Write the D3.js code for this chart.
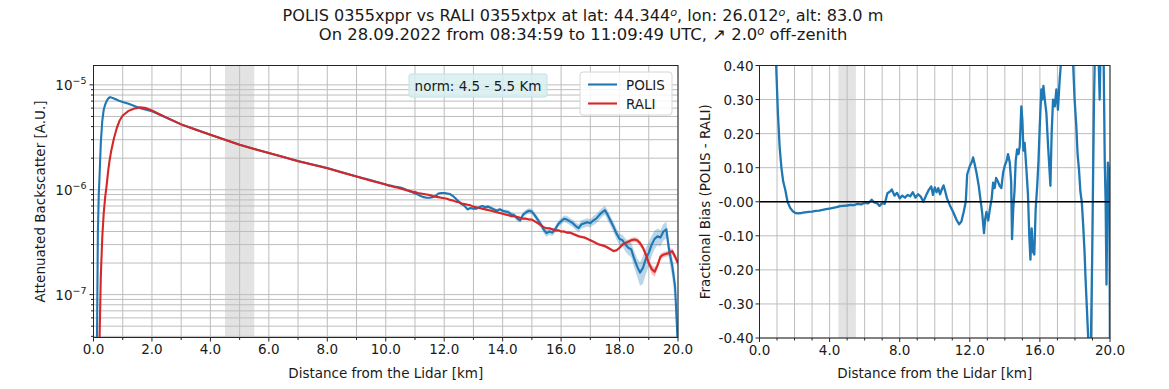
<!DOCTYPE html>
<html>
<head>
<meta charset="utf-8">
<script src="https://cdn.jsdelivr.net/npm/d3@7"></script>
<style>
  body { margin: 0; background: #fff; }
  text { font-family: "DejaVu Sans", sans-serif; fill: #1a1a1a; }
</style>
</head>
<body>
<script>
// ---- data (backscatter values in units of 1e-6 A.U.) ----
const distHead = [0.10,0.12,0.15,0.18,0.20,0.25,0.30,0.35,0.40,0.45,0.50,0.55,0.60,0.70,0.80,0.90,1.00,1.20,1.40,1.60,1.80,2.00,2.50,3.00,3.50,4.00,4.50,5.00,5.50,6.00,6.50,7.00,7.50,8.00,8.50,9.00,9.50];
const polisHead = [0.005,0.04,0.4,0.9,1.2,2.8,4.5,5.8,6.5,7.0,7.4,7.6,7.6,7.4,7.2,7.0,6.85,6.6,6.3,6.0,5.8,5.6,4.85,4.2,3.75,3.35,3.0,2.68,2.45,2.24,2.05,1.88,1.74,1.61,1.47,1.34,1.23];
const raliHead = [0.001,0.002,0.005,0.015,0.03,0.15,0.35,0.6,0.85,1.1,1.5,1.9,2.3,3.1,3.9,4.6,5.1,5.65,5.95,6.1,6.0,5.7,4.87,4.2,3.74,3.34,3.0,2.68,2.45,2.24,2.05,1.87,1.73,1.6,1.46,1.34,1.22];

const distTail = [10.0,10.1,10.2,10.3,10.4,10.5,10.6,10.7,10.8,10.9,
  11.0,11.1,11.2,11.3,11.4,11.5,11.6,11.7,11.8,11.9,
  12.0,12.1,12.2,12.3,12.4,12.5,12.6,12.7,12.8,12.9,
  13.0,13.1,13.2,13.3,13.4,13.5,13.6,13.7,13.8,13.9,
  14.0,14.1,14.2,14.3,14.4,14.5,14.6,14.7,14.8,14.9,
  15.0,15.1,15.2,15.3,15.4,15.5,15.6,15.7,15.8,15.9,
  16.0,16.1,16.2,16.3,16.4,16.5,16.6,16.7,16.8,16.9,
  17.0,17.1,17.2,17.3,17.4,17.5,17.6,17.7,17.8,17.9,
  18.0,18.1,18.2,18.3,18.4,18.5,18.6,18.7,18.8,18.9,
  19.0,19.1,19.2,19.3,19.4,19.5,19.6,19.7,19.8,19.9,
  20.0];
const polisTail = [1.12,1.10,1.09,1.07,1.06,1.05,1.03,1.00,0.97,0.95,
  0.92,0.90,0.87,0.85,0.84,0.84,0.85,0.87,0.92,0.93,
  0.93,0.92,0.91,0.87,0.82,0.77,0.73,0.70,0.65,0.67,
  0.66,0.66,0.68,0.70,0.68,0.69,0.67,0.65,0.63,0.65,
  0.63,0.62,0.61,0.58,0.57,0.53,0.51,0.58,0.61,0.63,
  0.62,0.57,0.52,0.47,0.42,0.385,0.40,0.39,0.42,0.47,
  0.50,0.53,0.52,0.50,0.48,0.45,0.43,0.47,0.48,0.49,
  0.48,0.51,0.53,0.57,0.61,0.64,0.57,0.50,0.44,0.38,
  0.34,0.33,0.30,0.28,0.27,0.22,0.186,0.162,0.18,0.22,
  0.25,0.30,0.34,0.36,0.35,0.40,0.42,0.26,0.19,0.12,
  0.03];
const raliTail = [1.12,1.10,1.08,1.06,1.05,1.03,1.01,0.99,0.98,0.96,
  0.95,0.93,0.92,0.91,0.90,0.89,0.87,0.86,0.85,0.84,
  0.83,0.82,0.80,0.79,0.77,0.76,0.74,0.73,0.72,0.71,
  0.69,0.68,0.67,0.66,0.65,0.64,0.63,0.62,0.61,0.60,
  0.59,0.58,0.57,0.56,0.56,0.55,0.54,0.53,0.53,0.52,
  0.52,0.50,0.48,0.46,0.44,0.43,0.43,0.42,0.41,0.41,
  0.40,0.40,0.39,0.39,0.38,0.37,0.36,0.355,0.35,0.34,
  0.33,0.32,0.31,0.30,0.295,0.29,0.28,0.27,0.26,0.265,
  0.28,0.30,0.31,0.32,0.33,0.335,0.33,0.31,0.28,0.24,
  0.20,0.175,0.165,0.19,0.23,0.24,0.245,0.25,0.26,0.23,
  0.20];
// spread of the shaded envelope, percent
const polisErrTail = [1,1,1,1,1,1,1,1,1,1, 1,1,1,1,1,1,1,1,1,1,
  2,2,2,2,2,3,3,3,3,3, 3,3,3,3,4,4,4,4,4,4,
  4,4,5,5,5,5,5,5,6,6, 6,6,7,7,8,8,7,7,7,7,
  7,7,8,8,8,8,9,9,9,9, 9,10,10,10,10,10,11,11,12,12,
  12,13,14,15,16,18,20,25,30,28, 26,22,20,18,18,18,18,20,22,30,
  40];
const raliErrTail = [1,1,1,1,1,1,1,1,1,1, 1,1,1,1,1,1,1,1,1,1,
  1,1,1,1,1,1,1,1,1,1, 1,1,1,1,1,1,1,1,1,1,
  2,2,2,2,2,2,2,2,2,2, 2,2,2,2,2,2,2,2,2,2,
  3,3,3,3,3,3,3,3,3,3, 3,3,3,3,3,3,3,3,3,3,
  4,4,4,5,5,5,6,6,6,7, 8,10,10,8,7,6,6,6,7,8,
  8];

const biasDist = [0.85,0.95,1.05,1.15,1.25,1.35,1.47,1.60,1.75,1.90,
  2.05,2.20,2.40,2.60,2.80,3.00,3.20,3.40,3.60,3.80,
  4.00,4.20,4.40,4.60,4.80,5.00,5.20,5.40,5.60,5.80,
  6.00,6.20,6.40,6.55,6.70,6.85,7.00,7.15,7.30,7.45,
  7.55,7.70,7.85,8.00,8.15,8.30,8.45,8.60,8.75,8.90,
  9.05,9.20,9.35,9.50,9.65,9.80,9.90,10.00,10.10,10.20,
  10.30,10.40,10.50,10.60,10.70,10.86,11.05,11.24,11.39,11.52,
  11.65,11.77,11.85,12.00,12.10,12.19,12.28,12.38,12.50,12.60,
  12.70,12.81,12.88,12.95,13.05,13.15,13.25,13.33,13.42,13.50,
  13.60,13.70,13.80,13.90,13.99,14.10,14.18,14.28,14.36,14.41,
  14.48,14.55,14.62,14.70,14.78,14.85,14.94,15.00,15.06,15.13,
  15.23,15.32,15.40,15.46,15.53,15.60,15.68,15.76,15.85,15.92,
  15.99,16.08,16.14,16.20,16.28,16.37,16.46,16.54,16.60,16.67,
  16.75,16.85,16.94,17.03,17.13,17.22,17.40,17.60,17.80,17.90,
  17.98,18.08,18.15,18.23,18.31,18.39,18.48,18.55,18.60,18.67,
  18.73,18.80,18.90,18.98,19.03,19.08,19.13,19.25,19.35,19.41,
  19.45,19.55,19.63,19.70,19.75,19.80,19.85,19.88,19.94,19.97,
  20.00];
const biasVal = [0.80,0.40,0.26,0.16,0.10,0.06,0.035,0.00,-0.018,-0.028,
  -0.033,-0.034,-0.033,-0.031,-0.030,-0.029,-0.027,-0.026,-0.024,-0.022,
  -0.020,-0.018,-0.016,-0.013,-0.012,-0.011,-0.009,-0.010,-0.006,-0.008,
  -0.003,-0.005,0.006,-0.002,-0.004,-0.012,-0.004,-0.006,0.025,0.030,
  0.036,0.018,0.026,0.010,0.018,0.012,0.020,0.016,0.028,0.012,
  0.022,0.015,0.000,0.018,0.034,0.045,0.020,0.042,0.028,0.040,
  0.022,0.036,0.048,0.030,0.010,-0.010,-0.030,-0.053,-0.066,-0.058,
  -0.030,0.000,0.080,0.105,0.115,0.130,0.110,0.086,0.050,0.010,
  -0.030,-0.092,-0.050,-0.030,-0.055,-0.020,0.010,0.056,0.040,0.070,
  0.060,0.047,0.040,0.085,0.105,0.120,0.140,0.115,0.060,-0.110,
  -0.020,0.030,0.120,0.154,0.140,0.164,0.280,0.240,0.150,0.173,
  0.095,0.020,-0.107,-0.170,-0.078,-0.146,-0.155,-0.020,0.050,0.120,
  0.220,0.330,0.300,0.340,0.300,0.260,0.170,0.100,0.047,0.200,
  0.300,0.280,0.330,0.270,0.360,0.420,0.600,0.700,0.550,0.400,
  0.300,0.220,0.140,0.095,0.030,0.000,-0.078,-0.150,-0.220,-0.300,
  -0.370,-0.450,-0.450,-0.175,0.050,0.270,0.420,0.600,0.420,0.300,
  0.420,0.600,0.450,0.120,0.000,-0.243,0.000,0.115,0.095,0.000,
  -0.500];

// ticks
const kmTicks = [0,1,2,3,4,5,6,7,8,9,10,11,12,13,14,15,16,17,18,19,20];
const leftKmLabels = [0,2,4,6,8,10,12,14,16,18,20];
const rightKmLabels = [0,4,8,12,16,20];
const decades = [-8,-7,-6,-5];
const decadeLabels = [-7,-6,-5];
const biasTicks = [0.4,0.3,0.2,0.1,0,-0.1,-0.2,-0.3,-0.4];
const normBand = [4.5, 5.5];

const titleLine1 = ['POLIS 0355xppr vs RALI 0355xtpx at lat: 44.344', 'o', ', lon: 26.012', 'o', ', alt: 83.0 m'];
const titleLine2 = ['On 28.09.2022 from 08:34:59 to 11:09:49 UTC,  \u2197  2.0', 'o', ' off-zenith'];

const distAll = distHead.concat(distTail);
const polisAll = polisHead.concat(polisTail);
const raliAll = raliHead.concat(raliTail);

const W = 1169, H = 389;
const FS = '13.5px';
const svg = d3.select('body').append('svg').attr('width', W).attr('height', H);

// ---- title ----
function addTitle(parts, y, targetWidth) {
  const t = svg.append('text').attr('x', 583).attr('y', y).attr('text-anchor', 'middle')
    .style('font-size', '14.5px');
  parts.forEach((p, i) => {
    if (i % 2 === 1) {
      t.append('tspan').attr('dy', -5).style('font-size', '10px').style('font-style', 'italic').text(p);
    } else {
      t.append('tspan').attr('dy', i === 0 ? 0 : 5).text(p);
    }
  });
  const len = t.node().getComputedTextLength();
  const fs = 14.5 * targetWidth / len;
  t.style('font-size', fs + 'px');
  t.selectAll('tspan').filter((d, i) => i % 2 === 1).style('font-size', (fs * 0.7) + 'px');
}
addTitle(titleLine1, 21, 601);
addTitle(titleLine2, 40, 529);

const gridColor = '#bdbdbd';
const axisColor = '#262626';
const lw = 2.1;

// ================= left panel =================
const L = { x0: 93.5, x1: 678, y0: 65.5, y1: 337.5 };
const xL = d3.scaleLinear().domain([0, 20]).range([L.x0, L.x1]);
const yL = d3.scaleLog().domain([3.9e-8, 1.53e-5]).range([L.y1, L.y0]);

const gL = svg.append('g');
gL.append('defs').append('clipPath').attr('id', 'clipL')
  .append('rect').attr('x', L.x0).attr('y', L.y0).attr('width', L.x1 - L.x0).attr('height', L.y1 - L.y0);

gL.append('rect').attr('x', xL(normBand[0])).attr('y', L.y0)
  .attr('width', xL(normBand[1]) - xL(normBand[0])).attr('height', L.y1 - L.y0)
  .attr('fill', '#e3e3e3');

const logTicks = [];
decades.forEach(d => {
  for (let m = 1; m <= 9; m++) {
    const v = m * Math.pow(10, d);
    if (v >= yL.domain()[0] && v <= yL.domain()[1]) logTicks.push({ v, major: m === 1 });
  }
});

gL.selectAll('.hgrid').data(logTicks).enter().append('line')
  .attr('x1', L.x0).attr('x2', L.x1)
  .attr('y1', d => yL(d.v)).attr('y2', d => yL(d.v))
  .attr('stroke', gridColor).attr('stroke-width', 1);
gL.selectAll('.vgrid').data(kmTicks).enter().append('line')
  .attr('x1', d => xL(d)).attr('x2', d => xL(d))
  .attr('y1', L.y0).attr('y2', L.y1)
  .attr('stroke', gridColor).attr('stroke-width', 1);

const plotL = gL.append('g').attr('clip-path', 'url(#clipL)');
const areaL = (vals, errs) => d3.area()
  .x((d, i) => xL(distTail[i]))
  .y0((d, i) => yL(Math.max(vals[i] * (1 - errs[i] / 100), 1e-9) * 1e-6))
  .y1((d, i) => yL(vals[i] * (1 + errs[i] / 100) * 1e-6));
plotL.append('path').datum(polisTail).attr('d', areaL(polisTail, polisErrTail))
  .attr('fill', '#1f77b4').attr('opacity', 0.3);
plotL.append('path').datum(raliTail).attr('d', areaL(raliTail, raliErrTail))
  .attr('fill', '#d62728').attr('opacity', 0.3);

const lineL = vals => d3.line()
  .x((d, i) => xL(distAll[i]))
  .y((d, i) => yL(vals[i] * 1e-6));
plotL.append('path').datum(polisAll).attr('d', lineL(polisAll))
  .attr('fill', 'none').attr('stroke', '#1f77b4').attr('stroke-width', lw).attr('stroke-linejoin', 'round');
plotL.append('path').datum(raliAll).attr('d', lineL(raliAll))
  .attr('fill', 'none').attr('stroke', '#d62728').attr('stroke-width', lw).attr('stroke-linejoin', 'round');

gL.append('rect').attr('x', L.x0).attr('y', L.y0).attr('width', L.x1 - L.x0).attr('height', L.y1 - L.y0)
  .attr('fill', 'none').attr('stroke', axisColor).attr('stroke-width', 1);

// x ticks
gL.selectAll('.xt').data(kmTicks).enter().append('line')
  .attr('x1', d => xL(d)).attr('x2', d => xL(d))
  .attr('y1', L.y1).attr('y2', d => L.y1 + (d % 2 === 0 ? 4 : 2.5))
  .attr('stroke', axisColor);
gL.selectAll('.xl').data(leftKmLabels).enter().append('text')
  .attr('x', d => xL(d)).attr('y', L.y1 + 16.5).attr('text-anchor', 'middle')
  .style('font-size', FS).text(d => d.toFixed(1));
// y ticks
gL.selectAll('.yt').data(logTicks).enter().append('line')
  .attr('x1', d => L.x0 - (d.major ? 4 : 2.5)).attr('x2', L.x0)
  .attr('y1', d => yL(d.v)).attr('y2', d => yL(d.v))
  .attr('stroke', axisColor);
const yLab = gL.selectAll('.yl').data(decadeLabels).enter().append('text')
  .attr('x', L.x0 - 7).attr('y', d => yL(Math.pow(10, d)) + 5).attr('text-anchor', 'end')
  .style('font-size', FS);
yLab.append('tspan').text('10');
yLab.append('tspan').attr('dy', -6).style('font-size', '9.5px').text(d => '\u2212' + Math.abs(d));

gL.append('text').attr('x', (L.x0 + L.x1) / 2).attr('y', 378).attr('text-anchor', 'middle')
  .style('font-size', FS).text('Distance from the Lidar [km]');
gL.append('text').attr('transform', `translate(45, ${(L.y0 + L.y1) / 2}) rotate(-90)`)
  .attr('text-anchor', 'middle').style('font-size', FS).text('Attenuated Backscatter [A.U.]');

// norm box
gL.append('rect').attr('x', 409).attr('y', 74).attr('width', 138).attr('height', 23).attr('rx', 2)
  .attr('fill', '#d7eef0').attr('fill-opacity', 0.85).attr('stroke', '#c2e2e6');
gL.append('text').attr('x', 478).attr('y', 90.5).attr('text-anchor', 'middle')
  .style('font-size', FS).text('norm: 4.5 - 5.5 Km');

// legend
const leg = gL.append('g');
leg.append('rect').attr('x', 580).attr('y', 72).attr('width', 92).attr('height', 43).attr('rx', 3)
  .attr('fill', '#fff').attr('fill-opacity', 0.85).attr('stroke', '#d6d6d6');
[['POLIS', '#1f77b4'], ['RALI', '#d62728']].forEach((e, i) => {
  const yy = 84.5 + i * 19;
  leg.append('line').attr('x1', 588).attr('x2', 617).attr('y1', yy).attr('y2', yy)
    .attr('stroke', e[1]).attr('stroke-width', lw);
  leg.append('text').attr('x', 626).attr('y', yy + 5).style('font-size', FS).text(e[0]);
});

// ================= right panel =================
const R = { x0: 759.5, x1: 1110, y0: 65.5, y1: 338 };
const xR = d3.scaleLinear().domain([0, 20]).range([R.x0, R.x1]);
const yR = d3.scaleLinear().domain([-0.4, 0.4]).range([R.y1, R.y0]);

const gR = svg.append('g');
gR.append('defs').append('clipPath').attr('id', 'clipR')
  .append('rect').attr('x', R.x0).attr('y', R.y0).attr('width', R.x1 - R.x0).attr('height', R.y1 - R.y0);

gR.append('rect').attr('x', xR(normBand[0])).attr('y', R.y0)
  .attr('width', xR(normBand[1]) - xR(normBand[0])).attr('height', R.y1 - R.y0)
  .attr('fill', '#e3e3e3');
gR.selectAll('.hgrid').data(biasTicks).enter().append('line')
  .attr('x1', R.x0).attr('x2', R.x1).attr('y1', d => yR(d)).attr('y2', d => yR(d))
  .attr('stroke', gridColor);
gR.selectAll('.vgrid').data(kmTicks).enter().append('line')
  .attr('x1', d => xR(d)).attr('x2', d => xR(d)).attr('y1', R.y0).attr('y2', R.y1)
  .attr('stroke', gridColor);

const plotR = gR.append('g').attr('clip-path', 'url(#clipR)');
plotR.append('path').datum(biasVal)
  .attr('d', d3.line().x((d, i) => xR(biasDist[i])).y(d => yR(d)))
  .attr('fill', 'none').attr('stroke', '#1f77b4').attr('stroke-width', 2.3).attr('stroke-linejoin', 'round');
gR.append('line').attr('x1', R.x0).attr('x2', R.x1).attr('y1', yR(0)).attr('y2', yR(0))
  .attr('stroke', '#000').attr('stroke-width', 1.6);

gR.append('rect').attr('x', R.x0).attr('y', R.y0).attr('width', R.x1 - R.x0).attr('height', R.y1 - R.y0)
  .attr('fill', 'none').attr('stroke', axisColor);

gR.selectAll('.xt').data(kmTicks).enter().append('line')
  .attr('x1', d => xR(d)).attr('x2', d => xR(d))
  .attr('y1', R.y1).attr('y2', d => R.y1 + (d % 4 === 0 ? 4 : 2.5))
  .attr('stroke', axisColor);
gR.selectAll('.xl').data(rightKmLabels).enter().append('text')
  .attr('x', d => xR(d)).attr('y', R.y1 + 16.5).attr('text-anchor', 'middle')
  .style('font-size', FS).text(d => d.toFixed(1));
gR.selectAll('.yt').data(biasTicks).enter().append('line')
  .attr('x1', R.x0 - 4).attr('x2', R.x0).attr('y1', d => yR(d)).attr('y2', d => yR(d))
  .attr('stroke', axisColor);
gR.selectAll('.yl').data(biasTicks).enter().append('text')
  .attr('x', R.x0 - 6).attr('y', d => yR(d) + 5).attr('text-anchor', 'end')
  .style('font-size', FS).text(d => (d <= 0 ? '-' : '') + Math.abs(d).toFixed(2));

gR.append('text').attr('x', (R.x0 + R.x1) / 2).attr('y', 378).attr('text-anchor', 'middle')
  .style('font-size', FS).text('Distance from the Lidar [km]');
gR.append('text').attr('transform', `translate(710, ${(R.y0 + R.y1) / 2}) rotate(-90)`)
  .attr('text-anchor', 'middle').style('font-size', FS).text('Fractional Bias (POLIS - RALI)');
</script>
</body>
</html>
